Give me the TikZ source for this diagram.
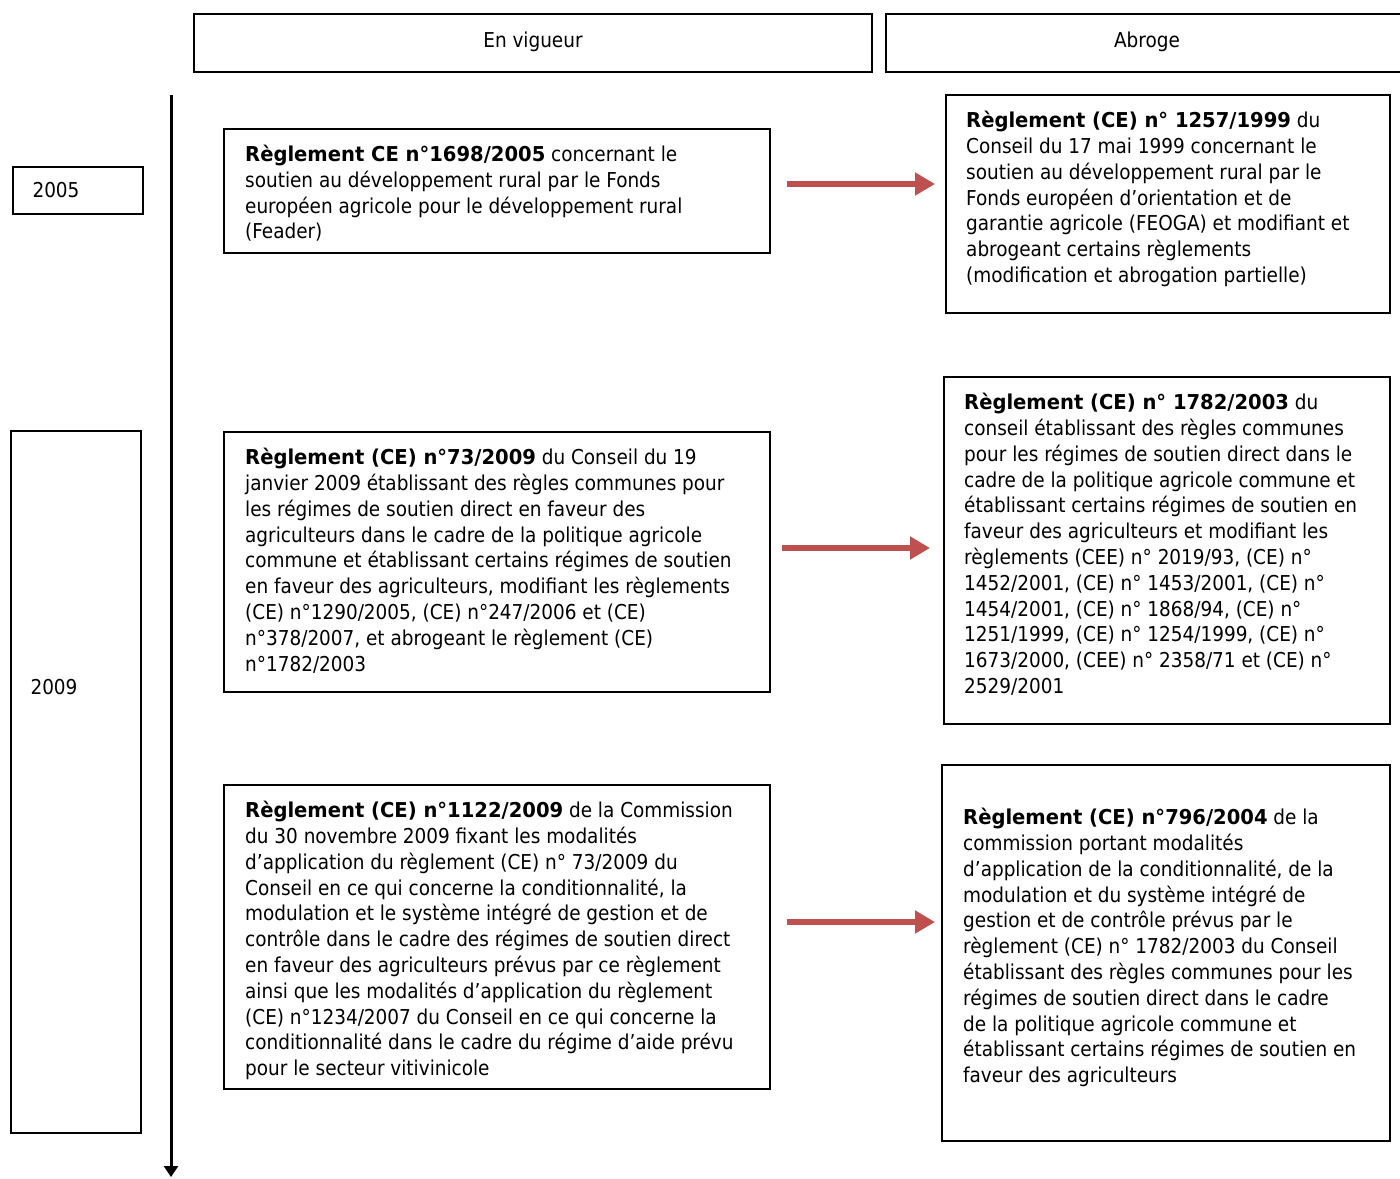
\documentclass[tikz,border=0pt]{standalone}
\usepackage{fontspec}
\setmainfont{DejaVu Sans Condensed}[BoldFont={DejaVu Sans Condensed Bold},BoldFeatures={FakeStretch=1.06}]
\usetikzlibrary{arrows.meta,calc}
\tikzset{
  box/.style={draw=black, line width=2pt, anchor=north west, inner sep=0pt, outer sep=0pt},
  txt/.style={anchor=north west, inner sep=0pt, align=left, font=\fontsize{20.5}{25.8}\selectfont},
  lbl/.style={inner sep=0pt, anchor=base, font=\fontsize{20.5}{25.8}\selectfont},
  redarrow/.style={draw={rgb,255:red,192;green,80;blue,77}, line width=6pt, -{Triangle[length=20pt,width=22pt]}},
}
\begin{document}
\begin{tikzpicture}[x=1pt,y=-1pt]
\useasboundingbox (0,0) rectangle (1400,1178);
% headers
\node[box, minimum width=678pt, minimum height=58pt] (H1) at (194,14) {};
\node[lbl] at (533,47) {En vigueur};
\node[box, minimum width=530pt, minimum height=58pt] (H2) at (886,14) {};
\node[lbl] at (1147,47) {Abroge};
% timeline
\coordinate (t0) at (171,95);
\coordinate (t1) at (171,1177);
\draw[line width=3pt, -{Triangle[length=11pt,width=14pt]}] (t0) -- (t1);
% years
\node[box, minimum width=130pt, minimum height=47pt] (Y1) at (13,167) {};
\node[lbl] at (56,197) {2005};
\node[box, minimum width=130pt, minimum height=702pt] (Y2) at (11,431) {};
\node[lbl] at (54,694) {2009};
% left boxes
\node[box, minimum width=546pt, minimum height=124pt] (A1) at (224,129) {};
\node[txt] at (245,145) {\textbf{Règlement CE n°1698/2005} concernant le\\soutien au développement rural par le Fonds\\européen agricole pour le développement rural\\(Feader)};
\node[box, minimum width=546pt, minimum height=260pt] (A2) at (224,432) {};
\node[txt] at (245,448) {\textbf{Règlement (CE) n°73/2009} du Conseil du 19\\janvier 2009 établissant des règles communes pour\\les régimes de soutien direct en faveur des\\agriculteurs dans le cadre de la politique agricole\\commune et établissant certains régimes de soutien\\en faveur des agriculteurs, modifiant les règlements\\(CE) n°1290/2005, (CE) n°247/2006 et (CE)\\n°378/2007, et abrogeant le règlement (CE)\\n°1782/2003};
\node[box, minimum width=546pt, minimum height=304pt] (A3) at (224,785) {};
\node[txt] at (245,801) {\textbf{Règlement (CE) n°1122/2009} de la Commission\\du 30 novembre 2009 fixant les modalités\\d’application du règlement (CE) n° 73/2009 du\\Conseil en ce qui concerne la conditionnalité, la\\modulation et le système intégré de gestion et de\\contrôle dans le cadre des régimes de soutien direct\\en faveur des agriculteurs prévus par ce règlement\\ainsi que les modalités d’application du règlement\\(CE) n°1234/2007 du Conseil en ce qui concerne la\\conditionnalité dans le cadre du régime d’aide prévu\\pour le secteur vitivinicole};
% right boxes
\node[box, minimum width=444pt, minimum height=218pt] (B1) at (946,95) {};
\node[txt] at (966,111) {\textbf{Règlement (CE) n° 1257/1999} du\\Conseil du 17 mai 1999 concernant le\\soutien au développement rural par le\\Fonds européen d’orientation et de\\garantie agricole (FEOGA) et modifiant et\\abrogeant certains règlements\\(modification et abrogation partielle)};
\node[box, minimum width=446pt, minimum height=347pt] (B2) at (944,377) {};
\node[txt] at (964,393) {\textbf{Règlement (CE) n° 1782/2003} du\\conseil établissant des règles communes\\pour les régimes de soutien direct dans le\\cadre de la politique agricole commune et\\établissant certains régimes de soutien en\\faveur des agriculteurs et modifiant les\\règlements (CEE) n° 2019/93, (CE) n°\\1452/2001, (CE) n° 1453/2001, (CE) n°\\1454/2001, (CE) n° 1868/94, (CE) n°\\1251/1999, (CE) n° 1254/1999, (CE) n°\\1673/2000, (CEE) n° 2358/71 et (CE) n°\\2529/2001};
\node[box, minimum width=448pt, minimum height=376pt] (B3) at (942,765) {};
\node[txt] at (963,808) {\textbf{Règlement (CE) n°796/2004} de la\\commission portant modalités\\d’application de la conditionnalité, de la\\modulation et du système intégré de\\gestion et de contrôle prévus par le\\règlement (CE) n° 1782/2003 du Conseil\\établissant des règles communes pour les\\régimes de soutien direct dans le cadre\\de la politique agricole commune et\\établissant certains régimes de soutien en\\faveur des agriculteurs};
% arrows
\draw[redarrow, shorten >=11pt] ([xshift=17pt]A1.east |- 0,184) -- (B1.west |- 0,184);
\draw[redarrow, shorten >=14pt] ([xshift=12pt]A2.east |- 0,548) -- (B2.west |- 0,548);
\draw[redarrow, shorten >=7pt] ([xshift=17pt]A3.east |- 0,922) -- (B3.west |- 0,922);
\end{tikzpicture}
\end{document}
